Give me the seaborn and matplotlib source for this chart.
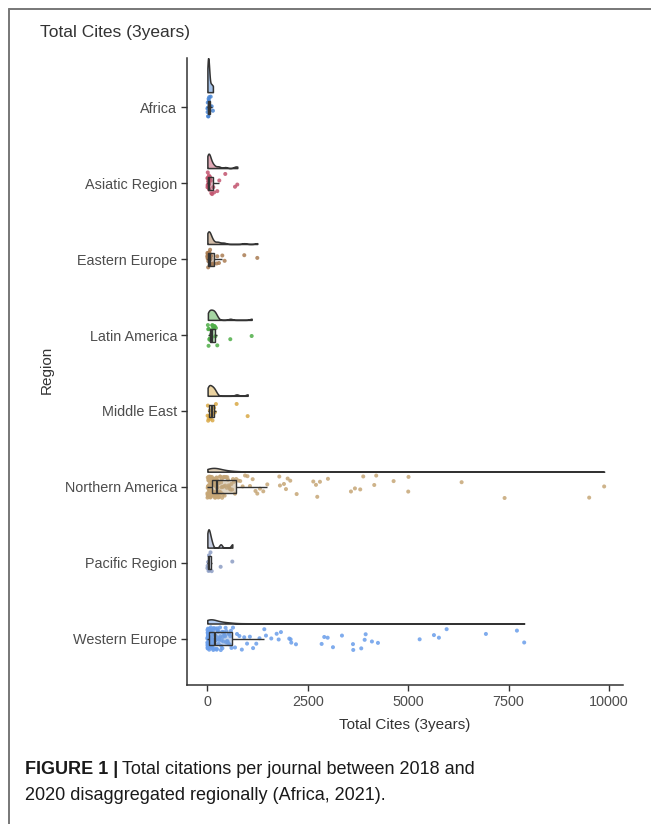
import numpy as np
import pandas as pd
import matplotlib
matplotlib.use("Agg")
import matplotlib.pyplot as plt
import seaborn as sns
from matplotlib.lines import Line2D
from matplotlib.colors import to_rgba

# ---------------- data ----------------
regions = ["Africa", "Asiatic Region", "Eastern Europe", "Latin America",
           "Middle East", "Northern America", "Pacific Region", "Western Europe"]
colors = ["#4a86d4", "#c2546e", "#a97c52", "#4fae48",
          "#d9a845", "#c6a676", "#8c9dc4", "#6a9eea"]

africa = [3, 8, 12, 18, 22, 27, 33, 40, 48, 60, 85, 110, 140]
asiatic = [2, 5, 8, 12, 15, 18, 22, 26, 30, 35, 40, 45, 50, 60, 70, 85, 100,
           120, 150, 170, 249, 299, 448, 690, 747]
eastern_europe = [2, 4, 6, 9, 12, 15, 18, 22, 26, 30, 35, 40, 46, 52, 60, 70,
                  82, 95, 110, 130, 150, 234, 249, 291, 374, 432, 921, 1245]
latin_america = [15, 24, 32, 40, 50, 62, 78, 95, 110, 122, 134, 145, 160, 175,
                 190, 200, 215, 249, 573, 1105]
middle_east = [8, 15, 22, 35, 50, 62, 80, 100, 117, 130, 150, 170, 190, 215,
               731, 1005]
northern_america = [
    2, 5, 8, 10, 12, 15, 18, 20, 22, 25, 28, 30, 33, 36, 40, 42, 45, 48, 50, 53,
    56, 60, 62, 65, 68, 70, 74, 78, 80, 84, 88, 90, 94, 98, 100, 105, 110,
    115, 120, 124, 128, 132, 136, 140, 145, 150, 154, 158, 162, 166, 170, 175,
    180, 184, 188, 192, 196, 200, 204, 208, 212, 215, 218, 220, 222, 225, 228,
    230, 232, 234, 236, 238, 240, 242, 245,
    250, 258, 265, 272, 280, 288, 295, 302, 310, 318, 326, 335, 344, 352, 360,
    370, 380, 390, 400, 410, 420, 432, 445, 458, 470, 485, 500, 515, 530, 545,
    560, 580, 600, 620, 640, 665, 690,
    720, 770, 820, 880, 940, 1000, 1063, 1130, 1200, 1245, 1312, 1394, 1494,
    1793, 1809, 1909, 1959, 2001, 2066, 2225, 2639, 2706, 2738, 2805, 3004,
    3577, 3676, 3808, 3883, 4157, 4206, 4639, 5003, 5010, 6332, 7402, 9508, 9881]
pacific = [2, 8, 20, 32, 42, 55, 80, 110, 333, 623]
western_europe = [
    0, 2, 3, 5, 6, 8, 9, 11, 12, 14, 15, 16, 18, 19, 21, 22, 24, 25, 26, 28,
    29, 30, 31, 33, 34, 35, 36, 38, 39, 40, 41, 42, 43, 44, 45, 46, 47, 48, 49, 50,
    52, 55, 57, 60, 62, 64, 67, 70, 72, 75, 78, 81, 84, 87, 90, 93, 96, 99, 102,
    106, 110, 114, 118, 122, 126, 130, 134, 138, 142, 146, 150, 154, 158, 162,
    166, 170, 175, 180, 185, 190,
    196, 203, 210, 218, 225, 233, 240, 248, 256, 264, 272, 281, 290, 299, 308,
    317, 326, 336, 346, 356, 366, 376, 387, 398, 409, 420, 432, 444, 456, 468,
    480, 493, 506, 519, 532, 546, 560, 574, 588, 602,
    640, 690, 740, 800, 860, 920, 990, 1060, 1140, 1220, 1300, 1420,
    1461, 1593, 1727, 1777, 1834, 2041, 2075, 2091, 2208, 2847, 2912, 2997, 3129,
    3353, 3627, 3634, 3833, 3918, 3943, 4099, 4249, 5287, 5643, 5767, 5959, 6937,
    7709, 7890]

series = [africa, asiatic, eastern_europe, latin_america, middle_east,
          northern_america, pacific, western_europe]
x_ticks = [0, 2500, 5000, 7500, 10000]

df = pd.DataFrame({
    "Region": [r for r, s in zip(regions, series) for _ in s],
    "Total Cites (3years)": [v for s in series for v in s],
})

# ---------------- style ----------------
sns.set_style("white")
plt.rcParams["font.family"] = ["Liberation Sans", "DejaVu Sans"]
dark = "#333333"
grey = "#4d4d4d"

W, H = 651, 824
fig = plt.figure(figsize=(W / 100, H / 100), dpi=100)
ax = fig.add_axes([187 / W, 1 - 685 / H, (623 - 187) / W, (685 - 58) / H])

# points
np.random.seed(3)
sns.stripplot(data=df, x="Total Cites (3years)", y="Region", hue="Region",
              order=regions, hue_order=regions, palette=colors, jitter=0.15,
              size=2.9, alpha=0.85, linewidth=0, legend=False, orient="h",
              ax=ax, zorder=1)

# boxes
sns.boxplot(data=df, x="Total Cites (3years)", y="Region", hue="Region",
            order=regions, hue_order=regions, palette=colors, width=0.17,
            showfliers=False, showcaps=False, linecolor=dark, linewidth=1.0,
            medianprops=dict(linewidth=1.6), legend=False, orient="h", ax=ax)
for p in ax.patches:
    fc = p.get_facecolor()
    p.set_facecolor((fc[0], fc[1], fc[2], 0.45))
    p.set_zorder(3)
for ln in ax.lines:
    ln.set_zorder(3.5)

# half violins (flat violins, scale = area, trimmed)
def nrd0(x):
    x = np.asarray(x, float)
    sd = x.std(ddof=1)
    q75, q25 = np.percentile(x, [75, 25])
    lo = min(sd, (q75 - q25) / 1.34)
    if lo <= 0:
        lo = sd
    return 0.9 * lo * len(x) ** -0.2

dens = []
for s in series:
    x = np.asarray(s, float)
    bw = nrd0(x)
    grid = np.linspace(x.min(), x.max(), 512)
    d = np.exp(-0.5 * ((grid[:, None] - x[None, :]) / bw) ** 2).sum(1) / (
        len(x) * bw * np.sqrt(2 * np.pi))
    dens.append((grid, d))
gmax = max(d.max() for _, d in dens)
for i, (grid, d) in enumerate(dens):
    base = i - 0.2
    ax.fill_between(grid, base, base - 0.45 * d / gmax,
                    facecolor=to_rgba(colors[i], 0.5), edgecolor=dark,
                    linewidth=1.1, zorder=2)

# axes
ax.set_yticks(range(len(regions)))
ax.set_yticklabels(regions)
ax.set_ylim(7.61, -0.65)
ax.set_xlim(-505, 10350)
ax.set_xticks(x_ticks)
ax.set_xticklabels([str(t) for t in x_ticks])
ax.set_xlabel("")
ax.set_ylabel("")
for side in ["top", "right"]:
    ax.spines[side].set_visible(False)
for side in ["left", "bottom"]:
    ax.spines[side].set_color(dark)
    ax.spines[side].set_linewidth(1.1)
ax.tick_params(axis="both", length=4, width=1, color=dark, labelcolor=grey,
               labelsize=10.4, pad=3, left=True, bottom=True)

# texts
fig.text(40 / W, 1 - 33 / H, "Total Cites (3years)", fontsize=12.5,
         color=dark, ha="left", va="center")
fig.text(47 / W, 1 - 370 / H, "Region", fontsize=11, color=dark,
         rotation=90, ha="center", va="center")
fig.text(405 / W, 1 - 725 / H, "Total Cites (3years)", fontsize=11,
         color=dark, ha="center", va="center")

# frame lines
fig.add_artist(Line2D([9 / W, 1], [1 - 8.5 / H, 1 - 8.5 / H],
                      transform=fig.transFigure, color="#777777", lw=1.4))
fig.add_artist(Line2D([9 / W, 9 / W], [0, 1 - 8.5 / H],
                      transform=fig.transFigure, color="#777777", lw=1.4))

# caption
fig.canvas.draw()
r = fig.canvas.get_renderer()
y1 = 1 - 769 / H
t1 = fig.text(25 / W, y1, "FIGURE 1 |", fontsize=13, weight="bold",
              color="#1a1a1a", ha="left", va="center")
bb = t1.get_window_extent(r)
fig.text((bb.x1 + 4) / W, y1,
         "Total citations per journal between 2018 and",
         fontsize=13, color="#1a1a1a", ha="left", va="center")
fig.text(25 / W, 1 - 795 / H, "2020 disaggregated regionally (Africa, 2021).",
         fontsize=13, color="#1a1a1a", ha="left", va="center")

fig.savefig("out.png", dpi=100)
